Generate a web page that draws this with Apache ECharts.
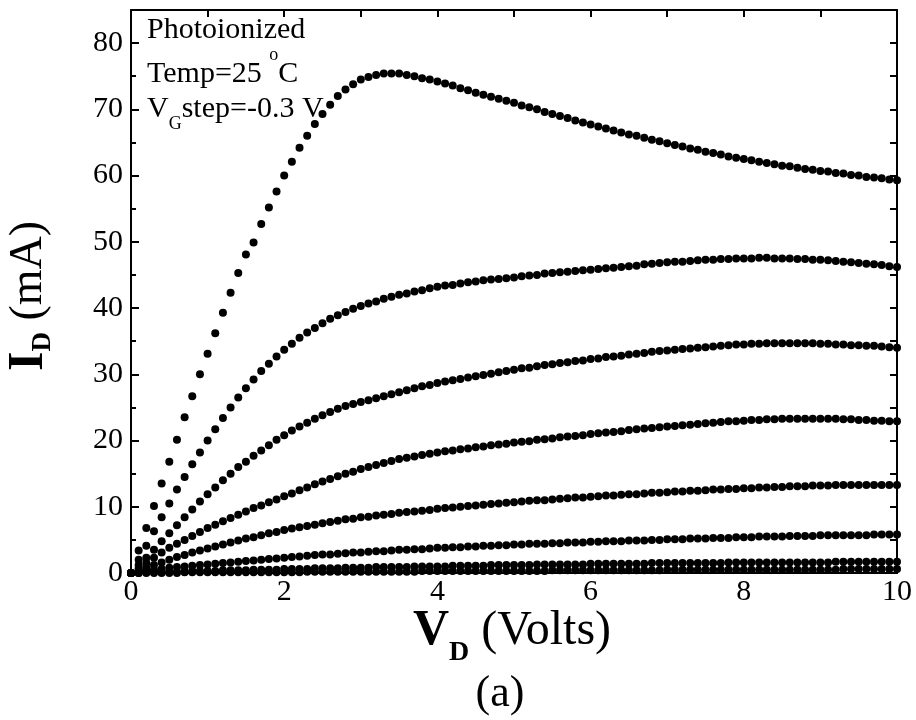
<!DOCTYPE html>
<html>
<head>
<meta charset="utf-8">
<script src="https://cdn.jsdelivr.net/npm/echarts@6/dist/echarts.min.js"></script>
<style>html,body{margin:0;padding:0;background:#fff}#c{width:916px;height:720px}</style>
</head>
<body>
<div id="c"></div>
<script>
// Drain voltage V_D (Volts)
var vd = [0,0.1,0.2,0.3,0.4,0.5,0.6,0.7,0.8,0.9,
1.0,1.1,1.2,1.3,1.4,1.5,1.6,1.7,1.8,1.9,
2.0,2.1,2.2,2.3,2.4,2.5,2.6,2.7,2.8,2.9,
3.0,3.1,3.2,3.3,3.4,3.5,3.6,3.7,3.8,3.9,
4.0,4.1,4.2,4.3,4.4,4.5,4.6,4.7,4.8,4.9,
5.0,5.1,5.2,5.3,5.4,5.5,5.6,5.7,5.8,5.9,
6.0,6.1,6.2,6.3,6.4,6.5,6.6,6.7,6.8,6.9,
7.0,7.1,7.2,7.3,7.4,7.5,7.6,7.7,7.8,7.9,
8.0,8.1,8.2,8.3,8.4,8.5,8.6,8.7,8.8,8.9,
9.0,9.1,9.2,9.3,9.4,9.5,9.6,9.7,9.8,9.9,10.0];

// Drain current I_D (mA), one array per gate step
var id1 = [0,3.4,6.8,10.1,13.5,16.8,20.1,23.5,26.7,30.0,
33.1,36.2,39.3,42.3,45.3,48.1,49.9,52.7,55.2,57.6,
60.0,62.1,64.2,66.0,67.8,69.3,70.7,72.0,73.0,73.8,
74.5,74.9,75.2,75.4,75.4,75.4,75.2,75.0,74.7,74.5,
74.2,73.9,73.6,73.2,72.9,72.5,72.2,71.9,71.6,71.3,
71.0,70.6,70.3,70.0,69.6,69.3,69.0,68.7,68.3,68.0,
67.7,67.4,67.1,66.8,66.5,66.2,66.0,65.7,65.4,65.2,
64.9,64.6,64.4,64.1,63.9,63.6,63.4,63.2,62.9,62.7,
62.5,62.3,62.1,61.9,61.7,61.5,61.4,61.2,61.0,60.9,
60.7,60.6,60.4,60.3,60.1,60.0,59.8,59.7,59.6,59.4,59.3];
var id2 = [0,2.0,4.1,6.3,8.4,10.5,12.6,14.5,16.4,18.2,
20.0,21.7,23.4,25.0,26.5,27.9,29.2,30.5,31.6,32.7,
33.7,34.6,35.5,36.3,37.0,37.7,38.4,38.9,39.4,39.9,
40.3,40.7,41.0,41.4,41.7,42.0,42.2,42.5,42.7,43.0,
43.2,43.4,43.5,43.7,43.9,44.0,44.2,44.3,44.4,44.5,
44.6,44.8,44.9,45.0,45.2,45.3,45.4,45.5,45.6,45.7,
45.8,45.9,46.0,46.1,46.2,46.3,46.4,46.6,46.7,46.8,
46.9,47.0,47.0,47.1,47.2,47.3,47.3,47.4,47.4,47.5,
47.5,47.5,47.6,47.6,47.5,47.5,47.5,47.4,47.4,47.3,
47.3,47.2,47.1,47.0,46.9,46.8,46.7,46.6,46.5,46.3,46.2];
var id3 = [0,1.2,2.3,3.5,4.8,6.0,7.2,8.4,9.6,10.8,
11.9,12.9,14.0,15.0,16.0,16.8,17.7,18.5,19.3,20.1,
20.8,21.5,22.1,22.7,23.3,23.8,24.3,24.8,25.2,25.5,
25.8,26.1,26.4,26.7,27.0,27.3,27.6,27.9,28.2,28.4,
28.7,28.9,29.1,29.3,29.5,29.7,29.9,30.1,30.3,30.5,
30.7,30.9,31.0,31.2,31.4,31.5,31.7,31.8,32.0,32.1,
32.3,32.4,32.6,32.7,32.8,33.0,33.1,33.2,33.4,33.5,
33.6,33.7,33.8,33.9,34.0,34.1,34.2,34.3,34.4,34.5,
34.5,34.6,34.6,34.7,34.7,34.7,34.7,34.7,34.7,34.7,
34.6,34.6,34.5,34.5,34.4,34.4,34.3,34.3,34.2,34.1,34.0];
var id4 = [0,0.7,1.5,2.3,3.1,3.8,4.4,5.0,5.6,6.2,
6.8,7.3,7.8,8.3,8.8,9.3,9.8,10.2,10.7,11.1,
11.6,12.0,12.5,12.9,13.4,13.8,14.2,14.6,15.0,15.3,
15.7,16.0,16.3,16.6,16.9,17.2,17.4,17.6,17.8,18.0,
18.2,18.4,18.5,18.7,18.8,19.0,19.1,19.3,19.4,19.5,
19.7,19.8,19.9,20.1,20.2,20.3,20.5,20.6,20.7,20.8,
21.0,21.1,21.2,21.3,21.4,21.6,21.7,21.8,21.9,22.0,
22.1,22.2,22.3,22.4,22.5,22.6,22.7,22.8,22.9,22.9,
23.0,23.1,23.1,23.2,23.2,23.3,23.3,23.3,23.3,23.3,
23.3,23.3,23.3,23.2,23.2,23.1,23.1,23.0,23.0,22.9,22.9];
var id5 = [0,0.4,0.8,1.2,1.6,2.0,2.4,2.7,3.1,3.4,
3.7,4.0,4.3,4.6,4.9,5.2,5.4,5.7,6.0,6.2,
6.5,6.7,6.9,7.1,7.3,7.5,7.7,7.9,8.1,8.2,
8.4,8.5,8.7,8.8,8.9,9.1,9.2,9.3,9.4,9.5,
9.7,9.8,9.9,10.0,10.1,10.2,10.3,10.4,10.5,10.6,
10.7,10.8,10.9,11.0,11.0,11.1,11.2,11.3,11.4,11.4,
11.5,11.6,11.7,11.7,11.8,11.9,11.9,12.0,12.1,12.1,
12.2,12.3,12.3,12.4,12.4,12.5,12.6,12.6,12.7,12.7,
12.8,12.8,12.9,12.9,13.0,13.0,13.1,13.1,13.1,13.2,
13.2,13.2,13.3,13.3,13.3,13.3,13.3,13.3,13.3,13.3,13.3];
var id6 = [0,0.2,0.3,0.5,0.6,0.8,0.9,1.0,1.1,1.2,
1.3,1.4,1.5,1.6,1.7,1.8,1.9,2.0,2.1,2.2,
2.3,2.4,2.5,2.6,2.7,2.8,2.8,2.9,3.0,3.1,
3.1,3.2,3.3,3.3,3.4,3.5,3.5,3.6,3.6,3.7,
3.8,3.8,3.9,3.9,4.0,4.0,4.1,4.1,4.2,4.2,
4.3,4.3,4.4,4.4,4.4,4.5,4.5,4.6,4.6,4.6,
4.7,4.7,4.8,4.8,4.8,4.9,4.9,4.9,5.0,5.0,
5.1,5.1,5.1,5.2,5.2,5.2,5.3,5.3,5.3,5.4,
5.4,5.4,5.5,5.5,5.5,5.5,5.6,5.6,5.6,5.6,
5.7,5.7,5.7,5.7,5.7,5.7,5.7,5.8,5.8,5.8,5.8];
var id7 = [0,0.0,0.1,0.1,0.1,0.2,0.2,0.2,0.3,0.3,
0.3,0.3,0.4,0.4,0.4,0.4,0.5,0.5,0.5,0.5,
0.6,0.6,0.6,0.6,0.7,0.7,0.7,0.7,0.8,0.8,
0.8,0.8,0.9,0.9,0.9,0.9,0.9,1.0,1.0,1.0,
1.0,1.0,1.1,1.1,1.1,1.1,1.1,1.2,1.2,1.2,
1.2,1.2,1.2,1.3,1.3,1.3,1.3,1.3,1.3,1.3,
1.4,1.4,1.4,1.4,1.4,1.4,1.4,1.4,1.5,1.5,
1.5,1.5,1.5,1.5,1.5,1.5,1.5,1.5,1.6,1.6,
1.6,1.6,1.6,1.6,1.6,1.6,1.6,1.6,1.6,1.6,
1.6,1.6,1.7,1.7,1.7,1.7,1.7,1.7,1.7,1.7,1.7];
var id8 = [0,0,0,0,0,0,0,0.1,0.1,0.1,
0.1,0.1,0.1,0.1,0.1,0.1,0.1,0.1,0.1,0.1,
0.1,0.1,0.1,0.2,0.2,0.2,0.2,0.2,0.2,0.2,
0.2,0.2,0.2,0.2,0.2,0.2,0.2,0.2,0.3,0.3,
0.3,0.3,0.3,0.3,0.3,0.3,0.3,0.3,0.3,0.3,
0.3,0.3,0.3,0.3,0.3,0.4,0.4,0.4,0.4,0.4,
0.4,0.4,0.4,0.4,0.4,0.4,0.4,0.4,0.4,0.4,
0.5,0.5,0.5,0.5,0.5,0.5,0.5,0.5,0.5,0.5,
0.5,0.5,0.5,0.5,0.5,0.5,0.5,0.5,0.5,0.5,
0.5,0.5,0.5,0.6,0.6,0.6,0.6,0.6,0.6,0.6,0.6];

var curves = [id1, id2, id3, id4, id5, id6, id7, id8];

var xTickLabels = ['0', '2', '4', '6', '8', '10'];
var yTickLabels = ['0', '10', '20', '30', '40', '50', '60', '70', '80'];

var FAMILY = '"Liberation Serif", "Times New Roman", serif';
var mctx = document.createElement('canvas').getContext('2d');
function textWidth(text, size, weight) {
  mctx.font = (weight || 'normal') + ' ' + size + 'px ' + FAMILY;
  return mctx.measureText(text).width;
}
// A line of text made of pieces (for sub/superscripts); dy = vertical shift of each piece's middle
function compositeText(pieces, x, y, align, rotation) {
  var total = 0;
  var widths = pieces.map(function (p) { var w = textWidth(p.text, p.size, p.weight); total += w; return w; });
  var cur = align === 'center' ? -total / 2 : 0;
  var children = pieces.map(function (p, i) {
    var el = {
      type: 'text', x: cur, y: p.dy || 0, silent: true,
      style: {
        text: p.text, fill: '#000', fontFamily: FAMILY, fontSize: p.size,
        fontWeight: p.weight || 'normal', align: 'left', verticalAlign: 'middle'
      }
    };
    cur += widths[i];
    return el;
  });
  return {type: 'group', x: x, y: y, rotation: rotation || 0, silent: true, children: children};
}

var chart = echarts.init(document.getElementById('c'), null, {renderer: 'canvas'});

var series = curves.map(function (c, k) {
  return {
    type: 'scatter',
    name: 'curve' + (k + 1),
    xAxisIndex: 0,
    yAxisIndex: 0,
    symbol: 'circle',
    symbolSize: 8,
    clip: false,
    itemStyle: {color: '#000', opacity: 1},
    emphasis: {disabled: true},
    data: vd.map(function (v, i) { return [v, c[i]]; })
  };
});

var axisLine = {show: true, onZero: false, lineStyle: {color: '#000', width: 2}};

var option = {
  animation: false,
  backgroundColor: '#fff',
  grid: {left: 131, right: 19, top: 10, bottom: 147, containLabel: false},
  xAxis: [
    {
      type: 'value', min: 0, max: 10, interval: 2, position: 'bottom',
      axisLine: axisLine,
      axisTick: {show: true, inside: true, length: 8, lineStyle: {color: '#000', width: 2}},
      minorTick: {show: true, splitNumber: 2, length: 5, lineStyle: {color: '#000', width: 2}},
      splitLine: {show: false},
      axisLabel: {
        color: '#000', fontFamily: FAMILY, fontSize: 30, margin: 4,
        formatter: function (v) { return xTickLabels[Math.round(v / 2)]; }
      }
    },
    {
      type: 'value', min: 0, max: 10, interval: 1, position: 'top',
      axisLine: axisLine,
      axisTick: {show: true, inside: true, length: 7, lineStyle: {color: '#000', width: 2}},
      splitLine: {show: false},
      axisLabel: {show: false}
    }
  ],
  yAxis: [
    {
      type: 'value', min: 0, max: 85, interval: 10, position: 'left',
      axisLine: axisLine,
      axisTick: {show: true, inside: true, length: 8, lineStyle: {color: '#000', width: 2}},
      minorTick: {show: true, splitNumber: 2, length: 5, lineStyle: {color: '#000', width: 2}},
      splitLine: {show: false},
      axisLabel: {
        color: '#000', fontFamily: FAMILY, fontSize: 30, margin: 8, showMaxLabel: false,
        formatter: function (v) { var i = Math.round(v / 10); return (v % 10 === 0 && yTickLabels[i]) ? yTickLabels[i] : ''; }
      }
    },
    {
      type: 'value', min: 0, max: 85, interval: 5, position: 'right',
      axisLine: axisLine,
      axisTick: {show: true, inside: true, length: 7, lineStyle: {color: '#000', width: 2}},
      splitLine: {show: false},
      axisLabel: {show: false}
    }
  ],
  series: series,
  graphic: [
    compositeText([{text: 'Photoionized', size: 30}], 147, 30),
    compositeText([
      {text: 'Temp=25 ', size: 30},
      {text: 'o', size: 18, dy: -19},
      {text: 'C', size: 30}
    ], 147, 74),
    compositeText([
      {text: 'V', size: 30},
      {text: 'G', size: 18, dy: 15},
      {text: 'step=-0.3 V', size: 30}
    ], 147, 109),
    compositeText([
      {text: 'V', size: 50, weight: 'bold'},
      {text: 'D', size: 28, weight: 'bold', dy: 22},
      {text: ' (Volts)', size: 48}
    ], 512, 631, 'center'),
    compositeText([
      {text: 'I', size: 50, weight: 'bold'},
      {text: 'D', size: 27, weight: 'bold', dy: 14},
      {text: ' (mA)', size: 46}
    ], 29, 296, 'center', Math.PI / 2),
    compositeText([{text: '(a)', size: 44}], 500, 694, 'center')
  ]
};
chart.setOption(option);
</script>
</body>
</html>
